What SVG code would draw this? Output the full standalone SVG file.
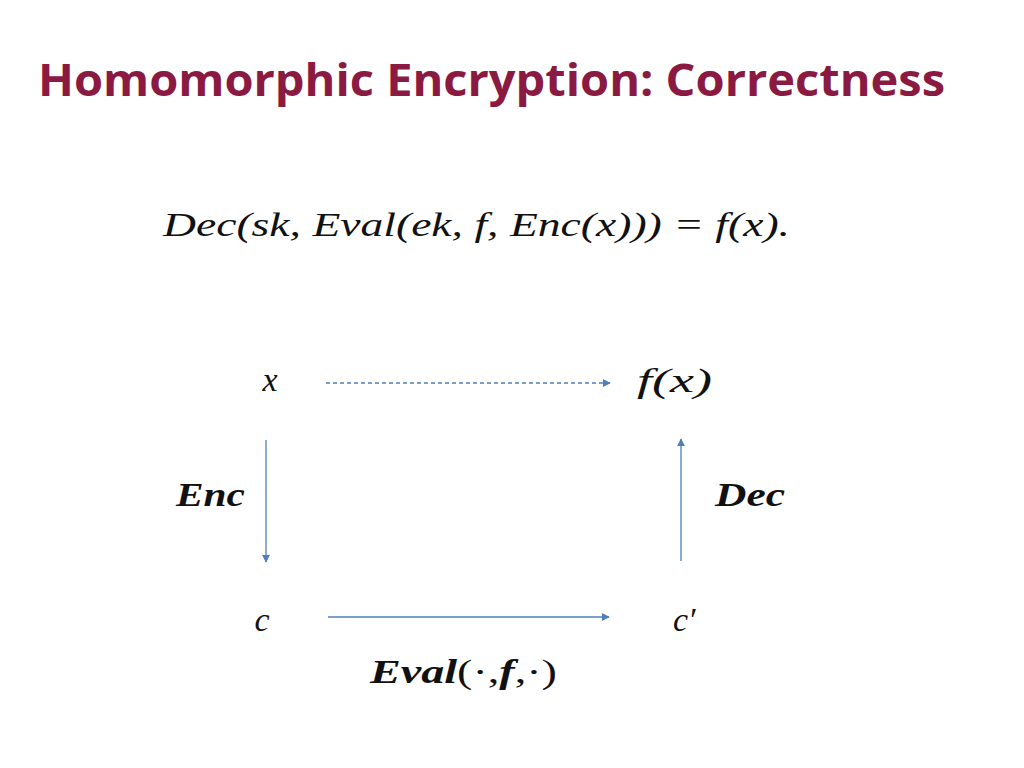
<svg xmlns="http://www.w3.org/2000/svg" width="1024" height="768" viewBox="0 0 1024 768">
<defs>
<style>
.title{font-family:"Open Sans","Liberation Sans",sans-serif;font-weight:bold;font-size:44px;fill:#8B1A42}
.m{font-family:"Liberation Serif","DejaVu Serif",serif;font-style:italic;font-size:34px;fill:#111}
.mb{font-family:"Liberation Serif","DejaVu Serif",serif;font-style:italic;font-weight:bold;font-size:34px;fill:#111}
.ln{stroke:#4F7EBB;stroke-width:1.3;fill:none}
</style>
<marker id="ah" viewBox="0 0 10 10" refX="9" refY="5" markerWidth="8" markerHeight="8" markerUnits="userSpaceOnUse" orient="auto">
<path d="M0,0 L10,5 L0,10 z" fill="#4F7EBB"/>
</marker>
</defs>
<rect width="1024" height="768" fill="#fff"/>
<text class="title" x="38" y="96" textLength="907" lengthAdjust="spacingAndGlyphs">Homomorphic Encryption: Correctness</text>
<text class="m" x="163" y="236" textLength="627" lengthAdjust="spacingAndGlyphs">Dec(sk, Eval(ek, f, Enc(x))) = f(x).</text>
<g id="connectors">
<line class="ln" x1="326" y1="383" x2="610" y2="383" stroke-dasharray="4,3" marker-end="url(#ah)"/>
<line class="ln" x1="266" y1="440" x2="266" y2="562" marker-end="url(#ah)"/>
<line class="ln" x1="681" y1="561" x2="681" y2="439" marker-end="url(#ah)"/>
<line class="ln" x1="328" y1="617" x2="609" y2="617" marker-end="url(#ah)"/>
</g>
<g id="node-x"><text class="m" x="270" y="391" text-anchor="middle" font-size="38">x</text></g>
<g id="node-fx"><text class="m" x="637" y="392" textLength="75" lengthAdjust="spacingAndGlyphs" font-size="36">f(x)</text></g>
<g id="node-c"><text class="m" x="262" y="631" text-anchor="middle" font-size="38">c</text></g>
<g id="node-cp"><text class="m" x="673" y="631" font-size="38">c′</text></g>
<g id="label-enc"><text class="mb" x="176" y="506" textLength="69" lengthAdjust="spacingAndGlyphs">Enc</text></g>
<g id="label-dec"><text class="mb" x="715" y="506" textLength="70" lengthAdjust="spacingAndGlyphs">Dec</text></g>
<g id="label-eval"><text class="mb" x="370" y="683" textLength="187" lengthAdjust="spacingAndGlyphs">Eval<tspan font-weight="normal" font-style="normal">(·,</tspan>f<tspan font-weight="normal" font-style="normal">,·)</tspan></text></g>
</svg>
